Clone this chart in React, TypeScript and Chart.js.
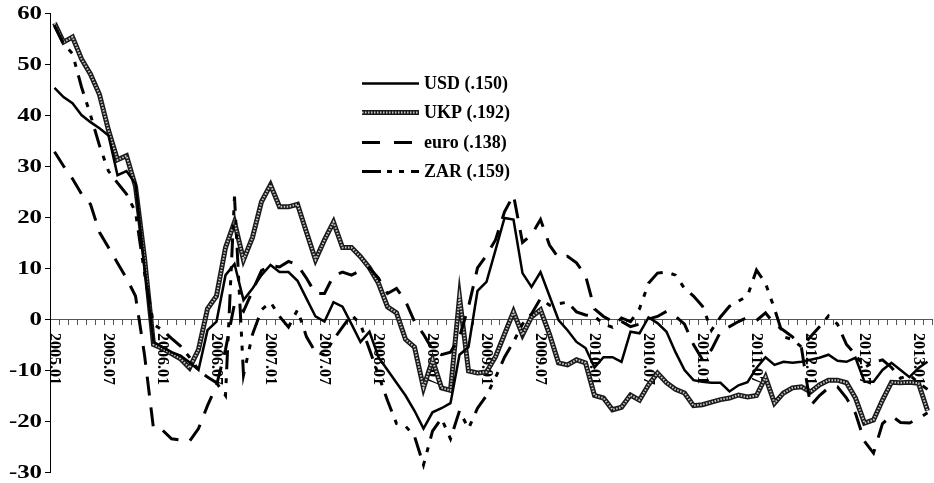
import React, { useEffect, useRef } from 'react';
import { Chart, registerables } from 'chart.js';

Chart.register(...registerables);

// Monthly index values, January 2005 onwards
const START_YEAR = 2005;

const usd = [
  45.3, 43.5, 42.3, 40, 38.6, 37.4, 36, 28.2, 29, 26.5,
  10, -4.5, -5.5, -6.5, -7.2, -8.5, -10, -2.2, -0.5, 8.6,
  10.8, 3.7, 6, 8.6, 10.6, 9.2, 9.2, 7.5, 4, 0.5,
  -0.5, 3.3, 2.4, -1, -4.5, -2.5, -7.5, -10, -12.5, -15,
  -18, -21.5, -18.3, -17.5, -16.5, -7, -5.5, 5.5, 7.3, 13.5,
  19.8, 19.5, 9, 6.3, 9.2, 4.5, -0.2, -2.2, -4.5, -5.7,
  -9.5, -7.5, -7.5, -8.4, -2.5, -2.8, 0.3, -0.8, -2.5, -6.5,
  -10, -12, -12.3, -12.5, -12.5, -14.2, -13, -12.4, -9.6, -7.5,
  -9, -8.4, -8.6, -8.4, -8, -7.6, -7, -8.2, -8.4, -7.6,
  -12.3, -12.3, -10, -8.6, -10, -11.4, -9.6, -8.4,
];

const ukp = [
  58, 54.3, 55.3, 51, 48, 44, 37, 31.2, 32, 26,
  12, -5, -5.8, -6.8, -7.8, -9.6, -6, 2, 4.5, 14,
  19, 11.6, 16, 23, 26.3, 22, 22, 22.5, 17, 11.6,
  15.5, 19, 14, 14, 12.2, 10, 7, 2.4, 1.2, -4,
  -5.5, -13.5, -8, -13.5, -14, 4.3, -10.2, -10.6, -10.4, -7.4,
  -3, 1.4, -3.1, 0.4, 1.8, -3, -8.6, -9, -8, -8.6,
  -15, -15.5, -17.8, -17.3, -14.9, -15.9, -12.9, -10.6, -12.5, -13.8,
  -14.5, -17, -16.8, -16.3, -15.8, -15.5, -14.9, -15.3, -15, -11.4,
  -16.5, -14.5, -13.5, -13.3, -14.3, -12.9, -12, -12, -12.5, -15.5,
  -20.4, -19.8, -15.9, -12.4, -12.5, -12.4, -12.6, -18,
];

const euro = [
  32.8, 30, 27.5, 24.5, 22.5, 17, 14, 11, 8, 4.5,
  -7, -21.5, -21.8, -23.5, -23.7, -24, -21.5, -17, -13, -6,
  3, 1.5, 5.5, 9.5, 10.5, 10.2, 11.3, 10.6, 8, 5,
  5, 8.5, 9.2, 8.6, 9.5, 10, 8, 5, 6, 3.5,
  -0.5, -3, -6, -7, -6.5, -3.5, 2.4, 10, 12.5, 15.5,
  21, 24.3, 15, 16.5, 19.5, 14.5, 12, 12.3, 11, 8.5,
  2, 0.5, -0.5, -0.5, -1.5, -1, 0, 0.5, 1.5, 0.5,
  -1, -5, -8, -6, -2.5, -1.5, -0.5, 0.3, -0.3, 1.2,
  -1, -2.2, -3.5, -5.7, -17, -15, -13.5, -13.3, -15.5, -18.5,
  -24, -26.3, -20.5, -19, -20.3, -20.4, -19.5, -18.4,
];

const zar = [
  57.5, 54, 52, 45.5, 40, 34, 29, 26.7, 24.5, 21,
  9, -1, -2.2, -3.8, -5.3, -7.5, -10, -11.4, -12.5, -15,
  24, -11, -3, 1.8, 3.3, 0.5, -1.6, 1.8, -3.5, -6.5,
  -7, -4, -1.6, 0.8, -1, -6, -11, -16, -20.5, -21,
  -23, -28.6, -22, -19.5, -23.5, -18, -21.5, -17.5, -15, -11.5,
  -7.5, -4.5, -1, 1, 4, 2.7, 3, 3.3, 1.4, 0.8,
  0.5, -1, -1.6, 0.2, -0.5, 2, 7, 9, 9.2, 8.6,
  6, 4.5, 2.5, -2.2, 0.4, 2.5, 3.5, 4.5, 9.6, 7,
  2, -3.5, -4, -5.5, -3.5, -1.5, 0.6, -1, -5, -7,
  -9.5, -8.5, -8, -9.5, -11.6, -11, -12.5, -13.8,
];

// "YYYY.MM" category labels, one per month of data
const months = usd.map(
  (_, i) => `${START_YEAR + Math.floor(i / 12)}.${String((i % 12) + 1).padStart(2, '0')}`
);
const LABEL_EVERY = 6;

const Y_MIN = -30;
const Y_MAX = 60;
const Y_STEP = 10;

const legendLabels = ['USD (.150)', 'UKP (.192)', 'euro (.138)', 'ZAR (.159)'];

const SERIF = "'Liberation Serif', 'Times New Roman', serif";
const EURO_DASH = [19, 12];
const ZAR_DASH = [19, 9, 5, 9, 5, 9];
const UKP_INNER_DASH = [1.5, 1.5];

// Rotated month labels hanging below the zero line
const monthLabelsPlugin = {
  id: 'monthLabels',
  beforeDatasetsDraw(chart: any) {
    const { ctx, scales } = chart;
    const xs = scales.x;
    const y0 = scales.y.getPixelForValue(0);
    ctx.save();
    ctx.font = `bold 16px ${SERIF}`;
    ctx.fillStyle = '#000';
    ctx.textAlign = 'left';
    ctx.textBaseline = 'middle';
    months.forEach((m, i) => {
      if (i % LABEL_EVERY !== 0) return;
      ctx.save();
      ctx.translate(xs.getPixelForValue(i), y0 + 14);
      ctx.rotate(Math.PI / 2);
      ctx.fillText(m, 0, 0);
      ctx.restore();
    });
    ctx.restore();
  },
};

// Wide bold value labels beside the vertical axis
const valueLabelsPlugin = {
  id: 'valueLabels',
  afterDraw(chart: any) {
    const { ctx, scales } = chart;
    const ys = scales.y;
    ctx.save();
    ctx.font = `bold 18px ${SERIF}`;
    ctx.fillStyle = '#000';
    ctx.textAlign = 'right';
    ctx.textBaseline = 'middle';
    ys.ticks.forEach((t: any) => {
      ctx.save();
      ctx.translate(ys.right - 8, ys.getPixelForValue(t.value) + 1);
      ctx.scale(1.38, 1);
      ctx.fillText(String(t.value), 0, 0);
      ctx.restore();
    });
    ctx.restore();
  },
};

// Legend with line samples inside the plot
const legendPlugin = {
  id: 'sampleLegend',
  afterDraw(chart: any) {
    const { ctx } = chart;
    const x1 = 362;
    const x2 = 419;
    const top = 83;
    const step = 29.3;
    ctx.save();
    ctx.lineCap = 'butt';
    const seg = (yy: number) => {
      ctx.beginPath();
      ctx.moveTo(x1, yy);
      ctx.lineTo(x2, yy);
      ctx.stroke();
    };
    legendLabels.forEach((label, k) => {
      const yy = Math.round(top + k * step) + 0.5;
      ctx.setLineDash([]);
      ctx.strokeStyle = '#000';
      if (k === 0) {
        ctx.lineWidth = 2.5;
        seg(yy);
      } else if (k === 1) {
        ctx.strokeStyle = '#1a1a1a';
        ctx.lineWidth = 5;
        seg(yy);
        ctx.strokeStyle = '#c8c8c8';
        ctx.lineWidth = 2;
        ctx.setLineDash(UKP_INNER_DASH);
        seg(yy);
      } else if (k === 2) {
        ctx.lineWidth = 3;
        ctx.setLineDash([18, 14]);
        seg(yy);
      } else {
        ctx.lineWidth = 3;
        ctx.setLineDash([19, 6, 5, 7, 5, 7]);
        seg(yy);
      }
      ctx.setLineDash([]);
      ctx.font = `bold 18px ${SERIF}`;
      ctx.fillStyle = '#000';
      ctx.textAlign = 'left';
      ctx.textBaseline = 'middle';
      ctx.fillText(label, 424, yy + 1);
    });
    ctx.restore();
  },
};

export default function App() {
  const canvasRef = useRef<HTMLCanvasElement | null>(null);

  useEffect(() => {
    document.body.style.margin = '0';
    document.body.style.overflow = 'hidden';
    const canvas = canvasRef.current;
    if (!canvas) return;

    const common = { pointRadius: 0, pointHoverRadius: 0, tension: 0, fill: false };

    const chart = new Chart(canvas, {
      type: 'line',
      data: {
        labels: months,
        datasets: [
          { ...common, label: 'USD (.150)', data: usd, borderColor: '#000', borderWidth: 2.5, order: 1 },
          { ...common, label: 'UKP (.192)', data: ukp, borderColor: '#1a1a1a', borderWidth: 5, order: 5 },
          { ...common, label: 'UKP (.192) inner', data: ukp, borderColor: '#c8c8c8', borderWidth: 2, borderDash: UKP_INNER_DASH, order: 4 },
          { ...common, label: 'euro (.138)', data: euro, borderColor: '#000', borderWidth: 3, borderDash: EURO_DASH, order: 3 },
          { ...common, label: 'ZAR (.159)', data: zar, borderColor: '#000', borderWidth: 3, borderDash: ZAR_DASH, order: 2 },
        ],
      },
      options: {
        responsive: false,
        animation: false,
        devicePixelRatio: 1,
        events: [],
        layout: { padding: { left: 0, top: 13, right: 2, bottom: 11 } },
        plugins: {
          legend: { display: false },
          tooltip: { enabled: false },
        },
        scales: {
          x: {
            type: 'category',
            position: { y: 0 } as any,
            offset: true,
            grid: { offset: true, drawOnChartArea: false, drawTicks: true, tickLength: 5, color: '#555' },
            border: { display: true, color: '#555', width: 1 },
            ticks: { display: false, autoSkip: false },
          },
          y: {
            min: Y_MIN,
            max: Y_MAX,
            grid: { drawOnChartArea: false, drawTicks: true, tickLength: 5, color: '#000' },
            border: { display: true, color: '#000', width: 1 },
            ticks: { display: false, stepSize: Y_STEP },
            afterFit: (s: any) => { s.width = 50; },
          },
        },
      },
      plugins: [monthLabelsPlugin, valueLabelsPlugin, legendPlugin],
    });

    return () => chart.destroy();
  }, []);

  return (
    <div style={{ width: 934, height: 483, background: '#fff' }}>
      <canvas ref={canvasRef} width={934} height={483} style={{ display: 'block' }} />
    </div>
  );
}
